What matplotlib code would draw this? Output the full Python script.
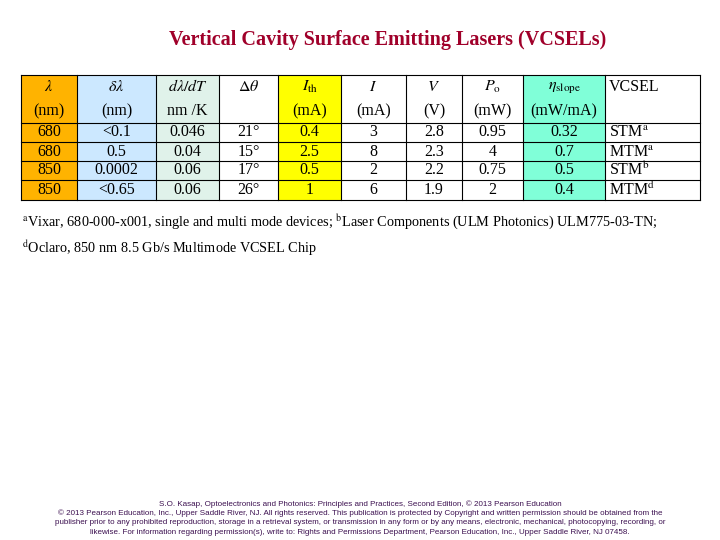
import matplotlib
matplotlib.use("Agg")
import matplotlib.pyplot as plt
from matplotlib.patches import Rectangle

title = "Vertical Cavity Surface Emitting Lasers (VCSELs)"
headers = [r"$\lambda$", r"$\delta\lambda$", r"$d\lambda/dT$", r"$\Delta\theta$", r"$I_{\rm th}$",
           r"$I$", r"$V$", r"$P_{\rm o}$", r"$\eta_{\rm slope}$", "VCSEL"]
units = ["(nm)", "(nm)", "nm /K", "", "(mA)", "(mA)", "(V)", "(mW)", "(mW/mA)", ""]
wavelength = ["680", "680", "850", "850"]
linewidth = ["<0.1", "0.5", "0.0002", "<0.65"]
dldt = ["0.046", "0.04", "0.06", "0.06"]
divergence = ["21°", "15°", "17°", "26°"]
ith = ["0.4", "2.5", "0.5", "1"]
current = ["3", "8", "2", "6"]
voltage = ["2.8", "2.3", "2.2", "1.9"]
power = ["0.95", "4", "0.75", "2"]
slope = ["0.32", "0.7", "0.5", "0.4"]
vcsel = [r"STM$^{\rm a}$", r"MTM$^{\rm a}$", r"STM$^{\rm b}$", r"MTM$^{\rm d}$"]
columns = [wavelength, linewidth, dldt, divergence, ith, current, voltage, power, slope, vcsel]
col_colors = ["#FFB300", "#CCE8FF", "#E0F2EA", "white", "#FFFF00", "white", "white", "white", "#80FFD8", "white"]

xe = [21, 77, 156, 219, 278, 341, 406, 462, 523, 605, 700]
ye = [75, 99, 123, 142, 161, 180, 200]

plt.rcParams['font.family'] = ['Liberation Serif', 'DejaVu Serif']
plt.rcParams['mathtext.fontset'] = 'stix'
fig = plt.figure(figsize=(7.2, 5.4), dpi=100)
ax = fig.add_axes([0, 0, 1, 1])
ax.set_xlim(0, 720); ax.set_ylim(540, 0); ax.axis('off')

ax.text(388, 40, title, ha='center', va='center', fontsize=14.5, fontweight='bold', color='#A0002A')

for c in range(10):
    ax.add_patch(Rectangle((xe[c], ye[0]), xe[c+1]-xe[c], ye[-1]-ye[0], fc=col_colors[c], ec='none'))
for c in range(11):
    ax.plot([xe[c], xe[c]], [ye[0], ye[-1]], color='black', lw=0.8)
for y in [ye[0], ye[2], ye[3], ye[4], ye[5], ye[6]]:
    ax.plot([xe[0], xe[-1]], [y, y], color='black', lw=0.8)

for c in range(10):
    left = c == 9
    x = xe[c] + 4 if left else (xe[c] + xe[c+1]) / 2
    ha = 'left' if left else 'center'
    ax.text(x, 87, headers[c], ha=ha, va='center', fontsize=11.5)
    ax.text(x, 111, units[c], ha=ha, va='center', fontsize=11.5)
    for r in range(4):
        ax.text(x, (ye[r+2] + ye[r+3]) / 2, columns[c][r], ha=ha, va='center', fontsize=11.5)

ax.text(22, 222, r"$^{\rm a}$Vixar, 680-000-x001, single and multi mode devices; $^{\rm b}$Laser Components (ULM Photonics) ULM775-03-TN;",
        ha='left', va='center', fontsize=10.3)
ax.text(22, 248, r"$^{\rm d}$Oclaro, 850 nm 8.5 Gb/s Multimode VCSEL Chip", ha='left', va='center', fontsize=10.3)

foot = ["S.O. Kasap, Optoelectronics and Photonics: Principles and Practices, Second Edition, © 2013 Pearson Education",
        "© 2013 Pearson Education, Inc., Upper Saddle River, NJ. All rights reserved. This publication is protected by Copyright and written permission should be obtained from the",
        "publisher prior to any prohibited reproduction, storage in a retrieval system, or transmission in any form or by any means, electronic, mechanical, photocopying, recording, or",
        "likewise. For information regarding permission(s), write to: Rights and Permissions Department, Pearson Education, Inc., Upper Saddle River, NJ 07458."]
for i, t in enumerate(foot):
    ax.text(360, 504 + i * 9.5, t, ha='center', va='center', fontsize=5.8, color='#3C1050',
            family=['Liberation Sans', 'DejaVu Sans'])

fig.savefig("out.png", dpi=100)
